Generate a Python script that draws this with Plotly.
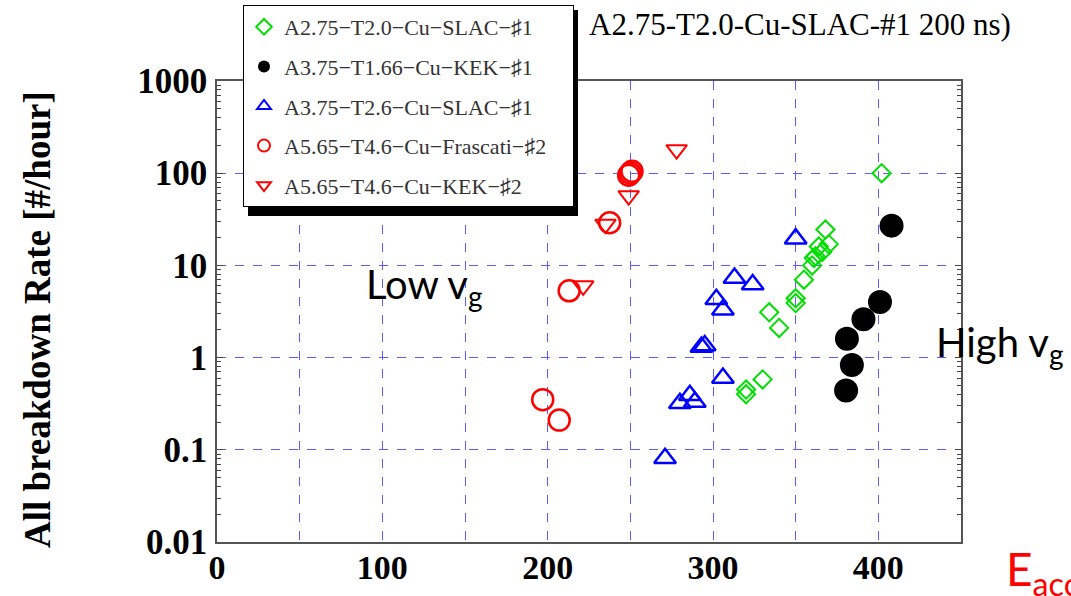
import plotly.graph_objects as go

# ---------------- data ----------------
green_name = "A2.75\u2212T2.0\u2212Cu\u2212SLAC\u2212\u266f1"
green_x = [402, 368, 370, 364, 366, 362, 361, 360, 355, 350, 350, 334, 340, 330, 320, 320]
green_y = [100, 24.5, 17, 16, 14, 12.6, 12, 10, 7, 4.4, 3.9, 3.1, 2.1, 0.58, 0.45, 0.4]

black_name = "A3.75\u2212T1.66\u2212Cu\u2212KEK\u2212\u266f1"
black_x = [408, 401, 391, 381, 384, 380.5]
black_y = [27, 4.0, 2.6, 1.6, 0.83, 0.44]

blue_name = "A3.75\u2212T2.6\u2212Cu\u2212SLAC\u2212\u266f1"
blue_x = [350, 313, 324, 302, 306, 293, 295, 306, 286, 280, 289, 271]
blue_y = [19.5, 7.3, 6.2, 4.3, 3.3, 1.3, 1.35, 0.6, 0.39, 0.32, 0.33, 0.081]

redc_name = "A5.65\u2212T4.6\u2212Cu\u2212Frascati\u2212\u266f2"
redc_x = [249, 250, 251, 237.5, 213, 197, 207]
redc_y = [95, 100, 105, 29, 5.3, 0.35, 0.21]

redt_name = "A5.65\u2212T4.6\u2212Cu\u2212KEK\u2212\u266f2"
redt_x = [278, 249, 235, 221.5]
redt_y = [180, 57, 28, 6.0]

x_tickvals = [0, 100, 200, 300, 400]
x_ticktext = ["0", "100", "200", "300", "400"]
x_halfgrid = [50, 150, 250, 350]
y_tickvals = [0.01, 0.1, 1, 10, 100, 1000]
y_ticktext = ["0.01", "0.1", "1", "10", "100", "1000"]

title_text = "A2.75-T2.0-Cu-SLAC-#1 200 ns)"
ytitle_text = "All breakdown Rate [#/hour]"

# ---------------- figure ----------------
W, H = 1071, 596
L, R, T, B = 217, 110, 81, 54
PW, PH = W - L - R, H - T - B


def px(x):
    return (x - L) / PW


def py(y):
    return (H - B - y) / PH


SERIF = "Liberation Serif"
SANS = "Lato"
PAD = "\u00a0\u00a0\u00a0\u2009"  # right padding inside the legend box

fig = go.Figure()

fig.add_trace(go.Scatter(
    x=green_x, y=green_y, mode="markers", name=green_name, legendgroup="g1",
    marker=dict(symbol="diamond-open", size=14, color="#00e000",
                line=dict(width=2, color="#00e000"))))
fig.add_trace(go.Scatter(
    x=black_x, y=black_y, mode="markers", name=black_name, legendgroup="g2",
    marker=dict(symbol="circle", size=24, color="black",
                line=dict(width=0))))
fig.add_trace(go.Scatter(
    x=blue_x, y=blue_y, mode="markers", name=blue_name, legendgroup="g3",
    marker=dict(symbol="triangle-up-open", size=19, color="#0000ff",
                line=dict(width=2.5, color="#0000ff"))))
fig.add_trace(go.Scatter(
    x=redc_x, y=redc_y, mode="markers", name=redc_name + PAD, legendgroup="g4",
    marker=dict(symbol="circle-open", size=21, color="#ff0000",
                line=dict(width=2.5, color="#ff0000"))))
fig.add_trace(go.Scatter(
    x=redt_x, y=redt_y, mode="markers", name=redt_name, legendgroup="g5",
    marker=dict(symbol="triangle-down-open", size=18, color="#ff0000",
                line=dict(width=2, color="#ff0000"))))

grid_col = "#5c5cff"
minor_y = [m * 10 ** e for e in range(-2, 3) for m in range(2, 10)]

fig.update_layout(
    xaxis=dict(
        range=[0, 450], tickmode="array", tickvals=x_tickvals, ticktext=x_ticktext,
        showgrid=True, gridcolor=grid_col, griddash="dash", gridwidth=1,
        ticks="", showline=True, linecolor="#555", linewidth=1.5, mirror=True,
        zeroline=False, ticklabelstandoff=-6,
        tickfont=dict(family=SERIF, size=34, color="black", weight="bold"),
        minor=dict(tickmode="array", tickvals=x_halfgrid, ticks="",
                   showgrid=True, gridcolor=grid_col, griddash="dash", gridwidth=1),
    ),
    # overlay axis carrying only the small 20-unit tick marks
    xaxis2=dict(
        overlaying="x", anchor="y", side="bottom", range=[0, 450],
        tickmode="linear", tick0=0, dtick=20, ticks="inside", ticklen=4,
        tickcolor="#444", showticklabels=False, showgrid=False, showline=False,
        zeroline=False, mirror="ticks",
    ),
    yaxis=dict(
        type="log", range=[-2, 3], tickmode="array", tickvals=y_tickvals, ticktext=y_ticktext,
        showgrid=True, gridcolor=grid_col, griddash="dash", gridwidth=1,
        ticks="inside", ticklen=6, tickcolor="#444",
        showline=True, linecolor="#555", linewidth=1.5, mirror="allticks",
        zeroline=False, ticklabelstandoff=1,
        tickfont=dict(family=SERIF, size=35, color="black", weight="bold"),
        minor=dict(tickmode="array", tickvals=minor_y, ticks="inside", ticklen=4,
                   tickcolor="#444", showgrid=False),
    ),
)

# legend shadow
fig.add_shape(type="rect", xref="paper", yref="paper",
              x0=px(248), x1=px(578), y0=py(216), y1=py(10),
              fillcolor="black", line=dict(width=0), layer="above")

annots = [
    dict(text=title_text, x=px(587), y=py(25), xanchor="left", yanchor="middle",
         font=dict(family=SERIF, size=31, color="black")),
    dict(text=ytitle_text, x=px(37), y=py(320), xanchor="center", yanchor="middle",
         textangle=-90, font=dict(family=SERIF, size=37, color="black", weight="bold")),
    dict(text="Low v<sub>g</sub>", x=px(364), y=py(286), xanchor="left", yanchor="middle",
         font=dict(family=SANS, size=40, color="black")),
    dict(text="High v<sub>g</sub>", x=px(934), y=py(344), xanchor="left", yanchor="middle",
         font=dict(family=SANS, size=40, color="black")),
    dict(text="E<sub>acc</sub>", x=px(1004), y=py(572), xanchor="left", yanchor="middle",
         font=dict(family=SANS, size=46, color="#ff0000")),
]
for a in annots:
    fig.add_annotation(xref="paper", yref="paper", showarrow=False, **a)

fig.update_layout(
    width=W, height=H,
    margin=dict(l=L, r=R, t=T, b=B, autoexpand=False),
    paper_bgcolor="white", plot_bgcolor="white",
    showlegend=True,
    legend=dict(x=px(243), y=py(5), xanchor="left", yanchor="top",
                bgcolor="white", bordercolor="black", borderwidth=1,
                font=dict(family=SERIF, size=22, color="#333"),
                itemsizing="constant", traceorder="grouped", tracegroupgap=8),
)

fig.write_html("out.html")
